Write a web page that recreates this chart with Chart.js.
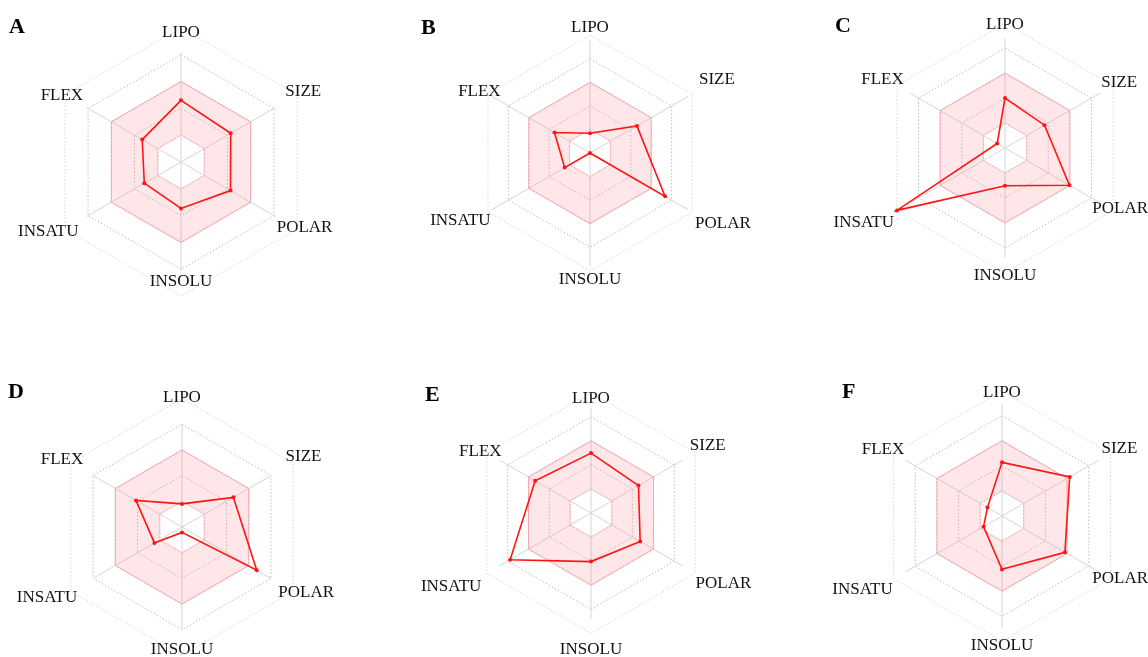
<!DOCTYPE html>
<html>
<head>
<meta charset="utf-8">
<script src="https://cdn.jsdelivr.net/npm/chart.js@4/dist/chart.umd.min.js"></script>
<style>
  html, body { margin: 0; padding: 0; background: #ffffff; }
  body { width: 1148px; height: 657px; position: relative; overflow: hidden; }
  canvas { position: absolute; }
  .tag {
    position: absolute;
    font-family: 'Liberation Serif', 'Times New Roman', serif;
    font-weight: bold;
    font-size: 22px;
    line-height: 22px;
    color: #000;
  }
</style>
</head>
<body>
<script>
// Bioavailability radar axes (clockwise from the top)
const axes = ['LIPO', 'SIZE', 'POLAR', 'INSOLU', 'INSATU', 'FLEX'];
const panelLetters = ['A', 'B', 'C', 'D', 'E', 'F'];

// Optimal range band: between ring 1 and ring 3 on every axis
const optimalUpper = [3, 3, 3, 3, 3, 3];
const optimalLower = [1, 1, 1, 1, 1, 1];

// Scaled property values of each compound (0 = centre, 5 = outer ring)
const compoundA = [2.30, 2.14, 2.13, 1.73, 1.58, 1.67];
const compoundB = [0.84, 2.30, 3.68, 0.00, 1.24, 1.74];
const compoundC = [2.00, 1.83, 2.98, 1.51, 5.00, 0.36];
const compoundD = [0.90, 2.31, 3.36, 0.21, 1.24, 2.07];
const compoundE = [2.49, 2.28, 2.36, 2.02, 3.88, 2.68];
const compoundF = [2.14, 3.12, 2.90, 2.13, 0.85, 0.67];
const compounds = [compoundA, compoundB, compoundC, compoundD, compoundE, compoundF];

// Panel placement: centre, outer radius, spoke length (ring units), letter position
const panelLayout = [
  { cx: 181,    cy: 161.5, radius: 134,   reach: 4.07, tagX: 9,   tagY: 15 },
  { cx: 589.5,  cy: 153,   radius: 117,   reach: 4.8,  tagX: 421, tagY: 16 },
  { cx: 1005,   cy: 148,   radius: 124,   reach: 4.4,  tagX: 835, tagY: 14 },
  { cx: 181.5,  cy: 527,   radius: 127.5, reach: 4.0,  tagX: 8,   tagY: 380 },
  { cx: 590.5,  cy: 512.5, radius: 120,   reach: 4.4,  tagX: 425, tagY: 383 },
  { cx: 1001.5, cy: 516,   radius: 124.5, reach: 4.45, tagX: 842, tagY: 380 }
];

// Axis-name offsets from the outer ring, per panel, in axis order
const labelPads = [
  [-14.5, -13.6, -23.6, -25,  -15.7, -21.1],
  [-2.3,   8,     3.5,  -1.2,  -3,   -14.6],
  [-11.7, -13.7, -24,   -7.2,   3.4,  -7.9],
  [-8.8,  -8.8,  -17.2, -15.7, -7.4, -14.3],
  [-15.8, -6.2,   0.5,   6.3,   6.3, -17],
  [-11.8, -10.4, -21,   -5.7,   0.9, -12.4]
];

const LABEL_SIZE = 17;
const LABEL_LINE = LABEL_SIZE * 1.2;
const CANVAS_W = 520;

// Solid spokes from the centre, drawn under the datasets
const spokes = {
  id: 'spokes',
  beforeDatasetsDraw(chart, args, opts) {
    const scale = chart.scales.r;
    const ctx = chart.ctx;
    ctx.save();
    ctx.strokeStyle = opts.color;
    ctx.lineWidth = 1;
    ctx.beginPath();
    for (let i = 0; i < chart.data.labels.length; i++) {
      const p = scale.getPointPositionForValue(i, opts.reach);
      ctx.moveTo(scale.xCenter, scale.yCenter);
      ctx.lineTo(p.x, p.y);
    }
    ctx.stroke();
    ctx.restore();
  }
};

panelLayout.forEach((lay, k) => {
  const pads = labelPads[k];
  // room the radial scale reserves above / below for the top and bottom axis names
  const overTop = Math.max(0, pads[0] + LABEL_LINE);
  const overBottom = Math.max(0, pads[3] + LABEL_LINE);
  const reserve = Math.max(overTop, overBottom);
  const half = Math.ceil(lay.radius + reserve);
  const h = half * 2;
  const centreY = half + Math.floor((overTop - overBottom) / 2);

  const canvas = document.createElement('canvas');
  canvas.width = CANVAS_W;
  canvas.height = h;
  canvas.style.width = CANVAS_W + 'px';
  canvas.style.height = h + 'px';
  canvas.style.left = (lay.cx - CANVAS_W / 2) + 'px';
  canvas.style.top = (lay.cy - centreY) + 'px';
  document.body.appendChild(canvas);

  const tag = document.createElement('div');
  tag.className = 'tag';
  tag.textContent = panelLetters[k];
  tag.style.left = lay.tagX + 'px';
  tag.style.top = lay.tagY + 'px';
  document.body.appendChild(tag);

  new Chart(canvas, {
    type: 'radar',
    data: {
      labels: axes,
      datasets: [
        {
          data: compounds[k],
          borderColor: '#ff1414',
          borderWidth: 1.6,
          backgroundColor: 'rgba(0,0,0,0)',
          fill: false,
          pointRadius: 2,
          pointBackgroundColor: '#ff1414',
          pointBorderColor: '#ff1414',
          pointBorderWidth: 0
        },
        {
          data: optimalUpper,
          borderColor: 'rgba(250,150,165,0.75)',
          borderWidth: 1,
          backgroundColor: 'rgba(250,120,140,0.19)',
          fill: '+1',
          pointRadius: 0
        },
        {
          data: optimalLower,
          borderColor: 'rgba(250,170,180,0.5)',
          borderWidth: 1,
          backgroundColor: 'rgba(0,0,0,0)',
          fill: false,
          pointRadius: 0
        }
      ]
    },
    options: {
      responsive: false,
      animation: false,
      events: [],
      elements: { line: { tension: 0 } },
      layout: { padding: 0 },
      plugins: {
        legend: { display: false },
        tooltip: { enabled: false },
        spokes: { reach: lay.reach, color: '#d5d5d5' }
      },
      scales: {
        r: {
          min: 0,
          max: 5,
          ticks: { display: false, stepSize: 1 },
          grid: {
            color: (c) => (c.tick && c.tick.value === 5) ? 'rgba(175,175,175,0.5)' : '#bdbdbd',
            lineWidth: 1
          },
          border: { dash: [1.5, 2] },
          angleLines: { display: false },
          pointLabels: {
            display: true,
            padding: (c) => pads[c.index],
            color: '#111',
            font: { family: "'Liberation Serif', 'Times New Roman', serif", size: LABEL_SIZE }
          }
        }
      }
    },
    plugins: [spokes]
  });
});
</script>
</body>
</html>
